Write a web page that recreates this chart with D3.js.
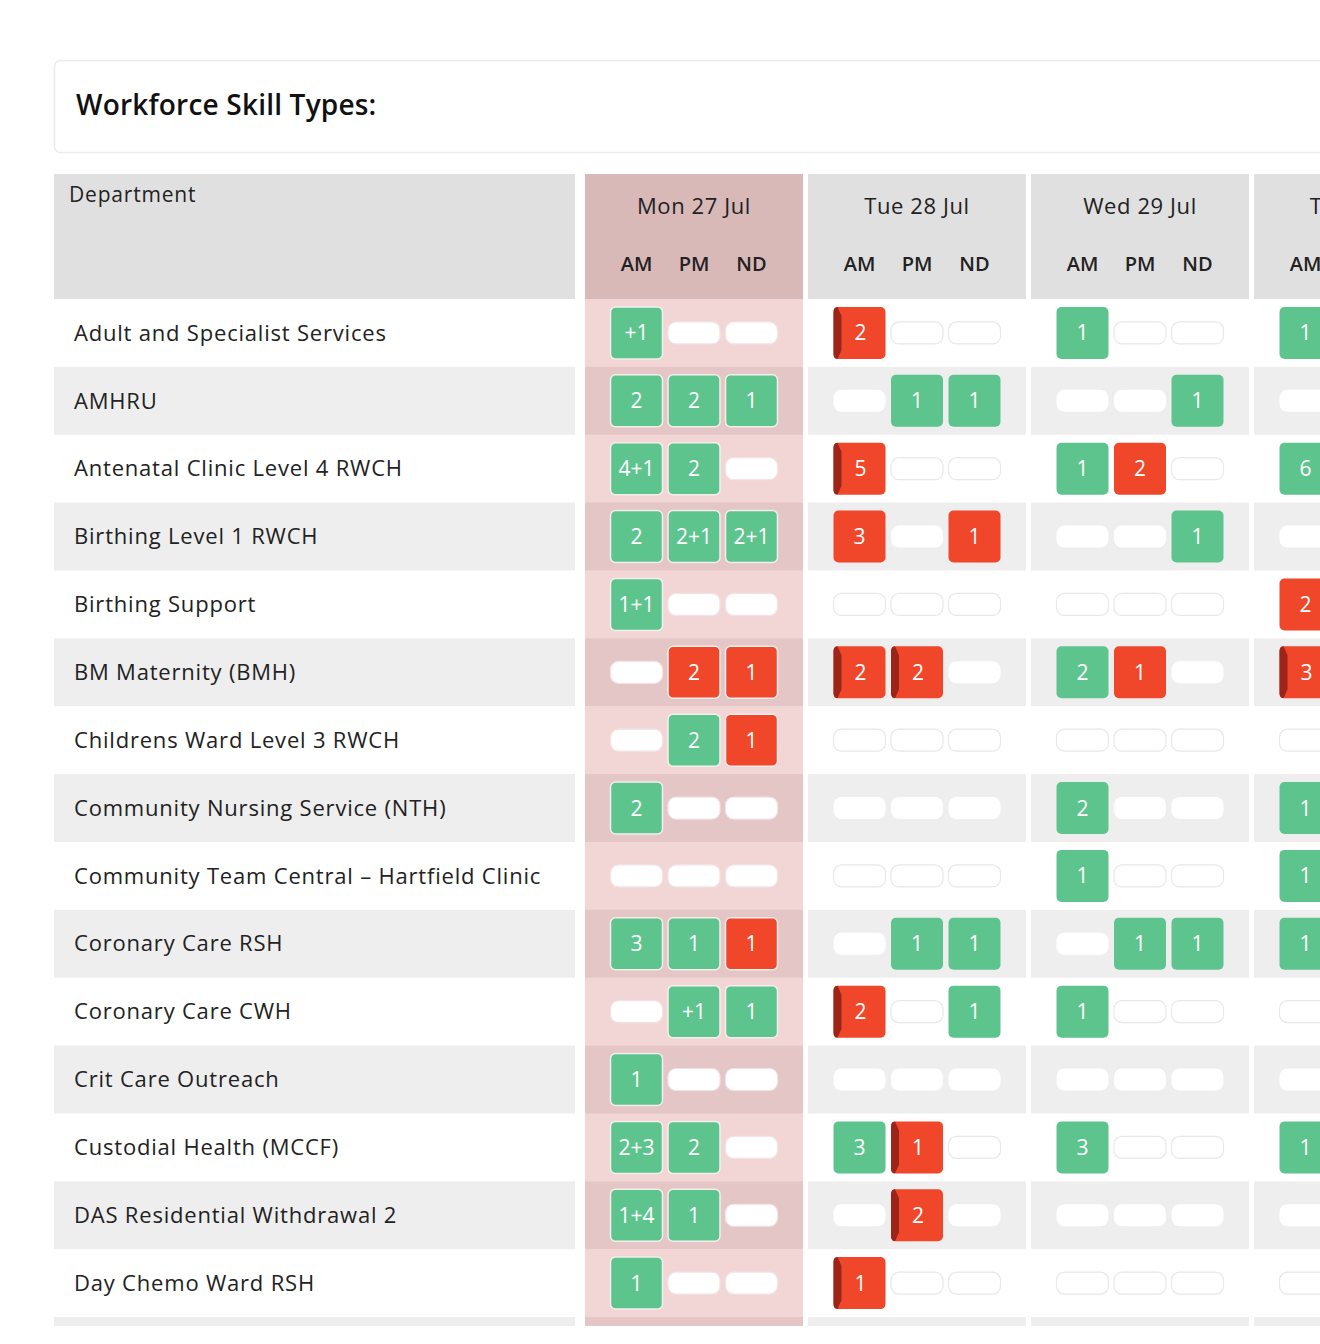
<!DOCTYPE html>
<html><head><meta charset="utf-8">
<script src="https://cdn.jsdelivr.net/npm/d3@7"></script>
<style>html,body{margin:0;padding:0;background:#fff;overflow:hidden}svg{display:block;font-family:"Open Sans","Noto Sans",sans-serif}</style>
</head><body><svg id="c" width="1320" height="1344"></svg>
<script>
const title = "Workforce Skill Types:";
const deptHeader = "Department";
const days = ["Mon 27 Jul", "Tue 28 Jul", "Wed 29 Jul", "Thu 30 Jul"];
const highlightDay = "Mon 27 Jul";
const sessions = ["AM", "PM", "ND"];
const departments = [
  "Adult and Specialist Services", "AMHRU", "Antenatal Clinic Level 4 RWCH", "Birthing Level 1 RWCH",
  "Birthing Support", "BM Maternity (BMH)", "Childrens Ward Level 3 RWCH", "Community Nursing Service (NTH)",
  "Community Team Central \u2013 Hartfield Clinic", "Coronary Care RSH", "Coronary Care CWH", "Crit Care Outreach",
  "Custodial Health (MCCF)", "DAS Residential Withdrawal 2", "Day Chemo Ward RSH"
];
// cell codes: "" = open slot, g = filled (green), r = short (red), d = short, flagged (red with dark edge); rest = label
const mon = [
  ["g+1","",""], ["g2","g2","g1"], ["g4+1","g2",""], ["g2","g2+1","g2+1"], ["g1+1","",""],
  ["","r2","r1"], ["","g2","r1"], ["g2","",""], ["","",""], ["g3","g1","r1"],
  ["","g+1","g1"], ["g1","",""], ["g2+3","g2",""], ["g1+4","g1",""], ["g1","",""]
];
const tue = [
  ["d2","",""], ["","g1","g1"], ["d5","",""], ["r3","","r1"], ["","",""],
  ["d2","d2",""], ["","",""], ["","",""], ["","",""], ["","g1","g1"],
  ["d2","","g1"], ["","",""], ["g3","d1",""], ["","d2",""], ["d1","",""]
];
const wed = [
  ["g1","",""], ["","","g1"], ["g1","r2",""], ["","","g1"], ["","",""],
  ["g2","r1",""], ["","",""], ["g2","",""], ["g1","",""], ["","g1","g1"],
  ["g1","",""], ["","",""], ["g3","",""], ["","",""], ["","",""]
];
const thu = [
  ["g1"], [""], ["g6"], [""], ["r2"], ["d3"], [""], ["g1"], ["g1"], ["g1"],
  [""], [""], ["g1"], [""], [""]
];
const dayData = [mon, tue, wed, thu];

const svg = d3.select("#c");
const C = {green:"#5ec48e", red:"#f0472b", dark:"#9c2418", gray:"#eeeeee", head:"#e0e0e0",
  pinkHead:"#d9b9b8", pinkLight:"#f2d6d5", pinkDark:"#e3c6c5", text:"#222"};

// title card
svg.append("rect").attr("x",54.5).attr("y",60.5).attr("width",1400).attr("height",92).attr("rx",6)
  .attr("fill","#fff").attr("stroke","#ebebeb").attr("stroke-width",1.5);
svg.append("text").attr("x",76).attr("y",105).attr("dy","0.35em").attr("font-size",28).attr("font-weight",600)
  .attr("letter-spacing",0.2).attr("fill","#111").text(title);

svg.append("clipPath").attr("id","clp").append("rect").attr("x",0).attr("y",0).attr("width",1320).attr("height",1326);
const g = svg.append("g").attr("clip-path","url(#clp)");

const nRows = departments.length + 1; // last row partially visible
const rowH = 67.87;
const y = d3.scaleBand().domain(d3.range(nRows)).range([299, 299 + nRows*rowH]);
const xDay = d3.scaleBand().domain(days).range([585, 585 + 223*4 - 5]).paddingInner(5/223).paddingOuter(0);
const xSes = d3.scalePoint().domain(sessions).range([51.5, 166.5]);
const deptX0 = 54, deptX1 = 575;

// header
g.append("rect").attr("x",deptX0).attr("y",174).attr("width",deptX1-deptX0).attr("height",125).attr("fill",C.head);
g.append("text").attr("x",69).attr("y",195).attr("dy","0.35em").attr("font-size",21).attr("font-weight",500)
  .attr("letter-spacing",0.8).attr("fill",C.text).text(deptHeader);
const dh = g.selectAll("g.dh").data(days).join("g").attr("class","dh")
  .attr("transform", d => `translate(${xDay(d)},0)`);
dh.append("rect").attr("y",174).attr("height",125).attr("width",xDay.bandwidth())
  .attr("fill", d => d === highlightDay ? C.pinkHead : C.head);
dh.append("text").attr("x",xDay.bandwidth()/2).attr("y",206).attr("dy","0.35em").attr("text-anchor","middle")
  .attr("font-size",22).attr("font-weight",500).attr("letter-spacing",0.6).attr("fill",C.text).text(d => d);
dh.selectAll("text.s").data(sessions).join("text").attr("class","s")
  .attr("x", s => xSes(s)).attr("y",264).attr("dy","0.35em").attr("text-anchor","middle")
  .attr("font-size",20).attr("font-weight",600).attr("fill",C.text).text(s => s);

// row bands
const rows = d3.range(nRows);
g.selectAll("rect.band").data(rows).join("rect").attr("class","band")
  .attr("x",deptX0).attr("width",deptX1-deptX0).attr("y",i=>y(i)).attr("height",y.bandwidth()+0.5)
  .attr("fill", i => i%2 ? C.gray : "#fff");
days.forEach(day => {
  g.selectAll(null).data(rows).join("rect")
    .attr("x",xDay(day)).attr("width",xDay.bandwidth()).attr("y",i=>y(i)).attr("height",y.bandwidth()+0.5)
    .attr("fill", i => day === highlightDay ? (i%2 ? C.pinkDark : C.pinkLight) : (i%2 ? C.gray : "#fff"));
});
g.selectAll("text.dept").data(departments).join("text").attr("class","dept")
  .attr("x",74).attr("y",(d,i)=>y(i)+y.bandwidth()/2).attr("dy","0.35em")
  .attr("font-size",22).attr("letter-spacing",0.8).attr("fill",C.text).text(d=>d);

// cells
const cells = [];
days.forEach((day, di) => dayData[di].forEach((row, ri) => row.forEach((code, si) => {
  cells.push({day, ri, ses: sessions[si], kind: code ? code[0] : "", label: code ? code.slice(1) : ""});
})));
const cw = 52, ch = 52, eh = 22;
const cg = g.selectAll("g.cell").data(cells).join("g").attr("class","cell")
  .attr("transform", d => `translate(${xDay(d.day)+xSes(d.ses)},${y(d.ri)+y.bandwidth()/2})`);
cg.filter(d => !d.kind).append("rect")
  .attr("x",-cw/2).attr("y",-eh/2).attr("width",cw).attr("height",eh).attr("rx",8)
  .attr("fill","#fff")
  .attr("stroke", d => d.day === highlightDay ? "#f3e3e3" : (d.ri%2 ? "none" : "#e8e8e8"))
  .attr("stroke-width",1.2);
const f = cg.filter(d => d.kind);
f.append("rect").attr("x",-cw/2).attr("y",-ch/2).attr("width",cw).attr("height",ch).attr("rx",5)
  .attr("fill", d => d.kind === "g" ? C.green : C.red)
  .attr("stroke", d => d.day === highlightDay ? "#f4eeee" : "none").attr("stroke-width",1.5);
f.filter(d => d.kind === "d").append("path")
  .attr("d", () => {
    const x0 = -cw/2, y0 = -ch/2, y1 = ch/2;
    return `M${x0},${y0+5} Q${x0},${y0} ${x0+4},${y0} L${x0+8},${y0+9} L${x0+8},${y1-9} L${x0+4},${y1} Q${x0},${y1} ${x0},${y1-5} Z`;
  })
  .attr("fill", C.dark);
f.append("text").attr("x", d => d.kind === "d" ? 1 : 0).attr("dy","0.36em").attr("text-anchor","middle")
  .attr("font-size",21).attr("fill","#fff").text(d => d.label);
</script></body></html>
